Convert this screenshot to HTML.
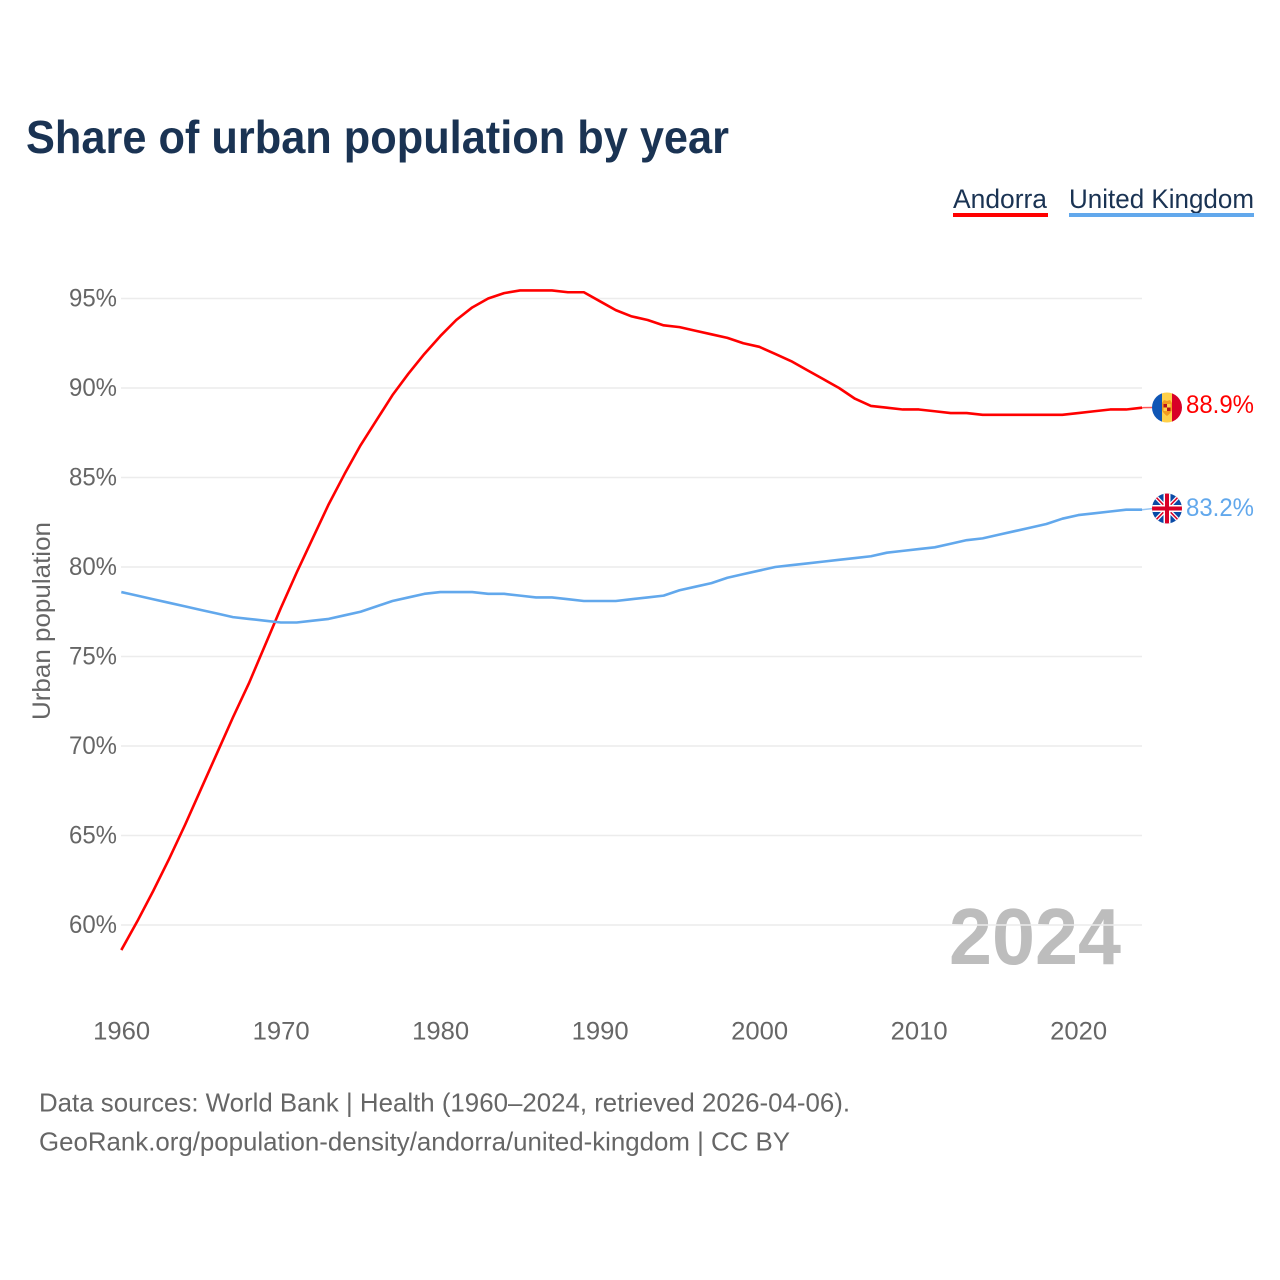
<!DOCTYPE html>
<html lang="en">
<head>
<meta charset="utf-8">
<title>Share of urban population by year</title>
<style>
html,body{margin:0;padding:0;background:#fff;}
svg{display:block;}
text{font-family:"Liberation Sans",sans-serif;}
</style>
</head>
<body>
<svg id="chart" xmlns="http://www.w3.org/2000/svg" width="1280" height="1280" viewBox="0 0 1280 1280">
  <rect width="1280" height="1280" fill="#ffffff"/>
  <text x="26" y="153" font-size="46" font-weight="700" fill="#1a3353" textLength="703" lengthAdjust="spacingAndGlyphs">Share of urban population by year</text>

  <g>
    <text x="953" y="208" font-size="27" fill="#1a3353" textLength="94" lengthAdjust="spacingAndGlyphs">Andorra</text>
    <rect x="953" y="213" width="95" height="4" fill="#ff0000"/>
  </g>
  <g>
    <text x="1069" y="208" font-size="27" fill="#1a3353" textLength="185" lengthAdjust="spacingAndGlyphs">United Kingdom</text>
    <rect x="1069" y="213" width="185" height="4" fill="#62a8ec"/>
  </g>

  <text x="949" y="964" font-size="80" font-weight="700" fill="#bdbdbd" textLength="172" lengthAdjust="spacingAndGlyphs">2024</text>
  <g id="grid"></g>
  <g id="yticks"></g>
  <g id="xticks"></g>
  <text transform="translate(50,621) rotate(-90)" text-anchor="middle" font-size="25" fill="#666666" textLength="198" lengthAdjust="spacingAndGlyphs">Urban population</text>
  <g id="series"></g>

  <defs>
    <clipPath id="flag-clip-ad"><circle cx="1167" cy="407.5" r="15"/></clipPath>
    <clipPath id="flag-clip-gb"><circle cx="1167" cy="508.5" r="15"/></clipPath>
  </defs>
  <g id="flag-andorra" clip-path="url(#flag-clip-ad)">
    <rect x="1152" y="392" width="10" height="31" fill="#0f56b5"/>
    <rect x="1162" y="392" width="10" height="31" fill="#fed04a"/>
    <rect x="1172" y="392" width="10" height="31" fill="#d80027"/>
    <path d="M1162 403l2-3l3 1l3-1l2 3v7q-1 3-5 6q-4-3-5-6z" fill="#f39a1f"/>
    <rect x="1163.500" y="404" width="3.500" height="3.500" fill="#b5121b"/>
    <rect x="1167" y="407.500" width="3.500" height="3.500" fill="#b5121b"/>
    <rect x="1167" y="404" width="3.500" height="3.500" fill="#fed04a"/>
    <rect x="1163.500" y="407.500" width="3.500" height="3.500" fill="#fed04a"/>
  </g>
  <g id="flag-uk" clip-path="url(#flag-clip-gb)">
    <rect x="1152" y="493" width="30" height="31" fill="#0a4aa6"/>
    <path d="M1152 493l30 31M1182 493l-30 31" stroke="#ffffff" stroke-width="4"/>
    <path d="M1152 493l30 31M1182 493l-30 31" stroke="#d80027" stroke-width="1.500"/>
    <rect x="1152" y="505" width="30" height="7" fill="#ffffff"/>
    <rect x="1163.500" y="493" width="7" height="31" fill="#ffffff"/>
    <rect x="1152" y="506.500" width="30" height="4" fill="#d80027"/>
    <rect x="1165" y="493" width="4" height="31" fill="#d80027"/>
  </g>

  <g>
    <text x="39" y="1111.500" font-size="26" fill="#666666" textLength="811" lengthAdjust="spacingAndGlyphs">Data sources: World Bank | Health (1960–2024, retrieved 2026-04-06).</text>
    <text x="39" y="1150.500" font-size="26" fill="#666666" textLength="751" lengthAdjust="spacingAndGlyphs">GeoRank.org/population-density/andorra/united-kingdom | CC BY</text>
  </g>
</svg>
<script>
const startYear = 1960;
const xTickYears = [1960, 1970, 1980, 1990, 2000, 2010, 2020];
const yTickValues = [60, 65, 70, 75, 80, 85, 90, 95];
const andorraValues = [58.6,60.2,61.9,63.7,65.6,67.6,69.6,71.6,73.5,75.6,77.7,79.7,81.6,83.5,85.2,86.8,88.2,89.6,90.8,91.9,92.9,93.8,94.5,95.0,95.3,95.45,95.45,95.45,95.35,95.35,94.85,94.35,94.0,93.8,93.5,93.4,93.2,93.0,92.8,92.5,92.3,91.9,91.5,91.0,90.5,90.0,89.4,89.0,88.9,88.8,88.8,88.7,88.6,88.6,88.5,88.5,88.5,88.5,88.5,88.5,88.6,88.7,88.8,88.8,88.9];
const ukValues = [78.6,78.4,78.2,78.0,77.8,77.6,77.4,77.2,77.1,77.0,76.9,76.9,77.0,77.1,77.3,77.5,77.8,78.1,78.3,78.5,78.6,78.6,78.6,78.5,78.5,78.4,78.3,78.3,78.2,78.1,78.1,78.1,78.2,78.3,78.4,78.7,78.9,79.1,79.4,79.6,79.8,80.0,80.1,80.2,80.3,80.4,80.5,80.6,80.8,80.9,81.0,81.1,81.3,81.5,81.6,81.8,82.0,82.2,82.4,82.7,82.9,83.0,83.1,83.2,83.2];
const andorraLabel = "88.9%";
const ukLabel = "83.2%";

const NS = "http://www.w3.org/2000/svg";
const xOf = year => 121.3 + (year - 1960) * 15.95;
const yOf = value => 567 - (value - 80) * 17.9;
const gridG = document.getElementById("grid");
const yTicksG = document.getElementById("yticks");
const xTicksG = document.getElementById("xticks");
const seriesG = document.getElementById("series");

function make(tag, attrs, parent, content) {
  const el = document.createElementNS(NS, tag);
  for (const key in attrs) el.setAttribute(key, attrs[key]);
  if (content !== undefined) el.textContent = content;
  parent.appendChild(el);
  return el;
}

yTickValues.forEach(v => {
  const line = make("line", {x1: 121, x2: 1142, y1: yOf(v), y2: yOf(v), stroke: "#ececec", "stroke-width": 1.5}, gridG);
  
  
  const label = make("text", {x: 117, y: yOf(v) + 8, "text-anchor": "end", "font-size": 25, fill: "#666666", textLength: 48, lengthAdjust: "spacingAndGlyphs"}, yTicksG, v + "%");
  
  
});

xTickYears.forEach(year => {
  const label = make("text", {x: xOf(year) + 0.3, y: 1039.500, "text-anchor": "middle", "font-size": 25, fill: "#666666", textLength: 57, lengthAdjust: "spacingAndGlyphs"}, xTicksG, String(year));
  
  
});

function pointsFor(values) {
  return values.map((v, i) => xOf(startYear + i).toFixed(2) + "," + yOf(v).toFixed(2)).join(" ");
}

function drawSeries(values, color, labelText, labelBaselineOffset, flagY) {
  const line = make("polyline", {points: pointsFor(values), fill: "none", stroke: color, "stroke-width": 2.6, "stroke-linejoin": "round"}, seriesG);
  
  
  const lastX = xOf(startYear + values.length - 1);
  const lastY = yOf(values[values.length - 1]);
  const leader = make("line", {x1: lastX, y1: lastY, x2: 1153, y2: flagY, stroke: color, "stroke-width": 1.5, opacity: 0.65}, seriesG);
  
  
  const endLabel = make("text", {x: 1186, y: flagY + labelBaselineOffset, "font-size": 25, fill: color, textLength: 68, lengthAdjust: "spacingAndGlyphs"}, seriesG, labelText);
  
  
}

drawSeries(andorraValues, "#ff0000", andorraLabel, 5.5, 407.5);
drawSeries(ukValues, "#62a8ec", ukLabel, 7.5, 508.5);
</script>
</body>
</html>
